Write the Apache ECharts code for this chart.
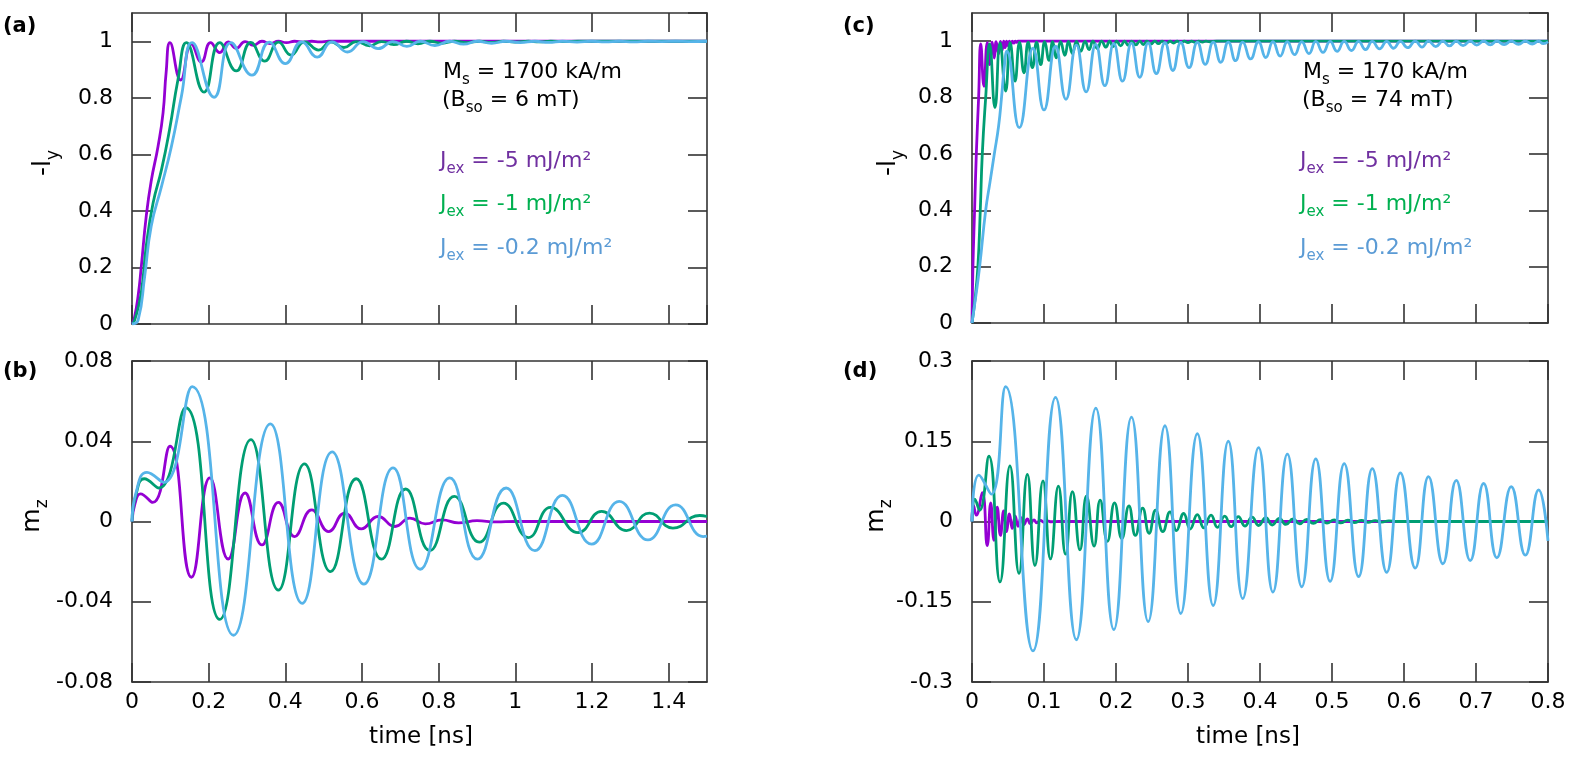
<!DOCTYPE html>
<html>
<head>
<meta charset="utf-8">
<script src="https://cdn.jsdelivr.net/npm/echarts@6/dist/echarts.min.js"></script>
<style>
html,body{margin:0;padding:0;background:#fff;}
#chart{width:1577px;height:759px;}
</style>
</head>
<body>
<div id="chart"></div>
<script>
// ---------- data (time [ns], value) ----------
// (a) -l_y , Ms = 1700 kA/m
const aPurple = [[0,0],[0.006,0.02],[0.016,0.1],[0.024,0.2],[0.037,0.38],[0.05,0.505],[0.068,0.629],[0.081,0.747],[0.089,0.889],[0.099,0.995],[0.127,0.863],[0.155,0.99],[0.181,0.927],[0.205,0.995],[0.229,0.96],[0.251,0.998],[0.272,0.975],[0.295,0.999],[0.317,0.986],[0.339,1],[0.36,0.992],[0.382,1],[0.403,0.995],[0.424,1],[0.447,0.997],[0.469,1],[0.49,0.998],[0.513,1],[1.5,1]];
const aGreen = [[0,0],[0.007,0.014],[0.024,0.109],[0.037,0.274],[0.055,0.428],[0.077,0.546],[0.098,0.688],[0.12,0.865],[0.142,0.995],[0.188,0.82],[0.229,0.995],[0.272,0.895],[0.31,0.996],[0.346,0.93],[0.382,0.997],[0.415,0.951],[0.45,0.998],[0.487,0.969],[0.518,0.998],[0.553,0.978],[0.585,0.999],[0.62,0.984],[0.651,0.999],[0.683,0.988],[0.716,1],[0.746,0.991],[0.777,1],[0.809,0.993],[0.841,1],[0.873,0.995],[0.906,1],[0.937,0.996],[0.969,1],[1.0,0.997],[1.034,1],[1.063,0.998],[1.092,1],[1.128,0.999],[1.164,1],[1.5,1]];
const aBlue = [[0,0],[0.016,0.014],[0.033,0.168],[0.05,0.345],[0.077,0.487],[0.103,0.629],[0.129,0.806],[0.157,0.995],[0.214,0.802],[0.258,0.995],[0.313,0.88],[0.358,0.997],[0.4,0.921],[0.443,0.998],[0.483,0.944],[0.522,0.998],[0.562,0.962],[0.603,0.999],[0.642,0.974],[0.681,0.999],[0.717,0.982],[0.752,1],[0.79,0.985],[0.829,1],[0.865,0.99],[0.901,1],[0.938,0.993],[0.976,1],[1.013,0.995],[1.051,1],[1.087,0.996],[1.123,1],[1.161,0.997],[1.199,1],[1.235,0.998],[1.271,1],[1.308,0.998],[1.346,1],[1.382,0.999],[1.418,1],[1.454,0.999],[1.5,1]];

// (b) m_z , Ms = 1700 kA/m
const bPurple = [[0,0],[0.008,0.009],[0.022,0.0138],[0.054,0.0095],[0.099,0.0375],[0.155,-0.0278],[0.203,0.0217],[0.251,-0.0187],[0.295,0.0142],[0.339,-0.0117],[0.382,0.0095],[0.424,-0.0075],[0.469,0.0058],[0.513,-0.005],[0.555,0.0042],[0.598,-0.0037],[0.642,0.0025],[0.686,-0.0025],[0.725,0.0017],[0.765,-0.0012],[0.809,0.0008],[0.852,-0.0007],[0.9,0.0004],[0.95,-0.0002],[1.0,0],[1.5,0]];
const bGreen = [[0,0],[0.01,0.013],[0.032,0.0213],[0.07,0.0167],[0.14,0.0567],[0.229,-0.0488],[0.31,0.0408],[0.382,-0.0342],[0.45,0.0287],[0.518,-0.025],[0.585,0.0213],[0.651,-0.0188],[0.714,0.0162],[0.777,-0.0145],[0.841,0.0125],[0.906,-0.0103],[0.969,0.0092],[1.034,-0.008],[1.092,0.007],[1.164,-0.0055],[1.225,0.005],[1.29,-0.0045],[1.35,0.0042],[1.411,-0.0033],[1.481,0.003],[1.5,0.0025]];
const bBlue = [[0,0],[0.01,0.014],[0.039,0.0245],[0.083,0.0195],[0.157,0.0672],[0.265,-0.0567],[0.361,0.0487],[0.444,-0.0408],[0.522,0.0347],[0.605,-0.0312],[0.681,0.0267],[0.752,-0.0238],[0.829,0.0217],[0.901,-0.0188],[0.976,0.0167],[1.051,-0.0145],[1.123,0.013],[1.199,-0.0113],[1.271,0.01],[1.346,-0.0092],[1.418,0.0083],[1.49,-0.0075],[1.5,-0.0073]];

// (c) -l_y , Ms = 170 kA/m
const cPurple = [[0,0],[0.0013,0.2],[0.0036,0.4],[0.006,0.6],[0.0092,0.8],[0.0122,0.99],[0.0166,0.84],[0.0212,0.995],[0.0245,0.917],[0.028,0.997],[0.031,0.94],[0.0335,0.998],[0.037,0.955],[0.0395,0.999],[0.042,0.968],[0.044,1],[0.046,0.977],[0.048,1],[0.05,0.984],[0.052,1],[0.054,0.989],[0.056,1],[0.058,0.993],[0.06,1],[0.062,0.996],[0.064,1],[0.08,1],[0.8,1]];
const cGreen = [[0,0],[0.004,0.08],[0.0082,0.2],[0.0115,0.4],[0.0143,0.6],[0.019,0.8],[0.0245,0.99],[0.0319,0.764],[0.039,0.994],[0.0467,0.823],[0.053,0.995],[0.0597,0.858],[0.066,0.996],[0.0722,0.888],[0.078,0.997],[0.0839,0.906],[0.0897,0.997],[0.0954,0.917],[0.101,0.998],[0.107,0.932],[0.112,0.998],[0.117,0.941],[0.123,0.998],[0.129,0.95],[0.134,0.999],[0.1395,0.956],[0.145,0.999],[0.151,0.964],[0.157,0.999],[0.1626,0.97],[0.168,1],[0.174,0.974],[0.18,1],[0.186,0.979],[0.191,1],[0.196,0.981],[0.201,1],[0.2065,0.983],[0.212,1],[0.217,0.985],[0.222,1],[0.2275,0.987],[0.233,1],[0.238,0.988],[0.243,1],[0.2485,0.99],[0.254,1],[0.259,0.991],[0.264,1],[0.27,0.992],[0.275,1],[0.28,0.993],[0.285,1],[0.29,0.994],[0.295,1],[0.3,0.995],[0.305,1],[0.31,0.996],[0.315,1],[0.32,0.997],[0.325,1],[0.33,0.998],[0.34,1],[0.8,1]];
const cBlue = [[0,0],[0.005,0.09],[0.0106,0.2],[0.019,0.4],[0.025,0.5],[0.031,0.6],[0.037,0.7],[0.041,0.8],[0.0445,0.9],[0.0485,0.965],[0.0657,0.693],[0.0847,0.975],[0.1,0.756],[0.116,0.982],[0.1305,0.794],[0.145,0.986],[0.1585,0.82],[0.172,0.989],[0.1845,0.842],[0.197,0.991],[0.209,0.858],[0.2215,0.993],[0.233,0.872],[0.2447,0.994],[0.256,0.885],[0.268,0.995],[0.279,0.896],[0.29,0.996],[0.3015,0.906],[0.313,0.996],[0.324,0.918],[0.335,0.997],[0.3455,0.925],[0.356,0.997],[0.366,0.931],[0.376,0.997],[0.387,0.937],[0.398,0.998],[0.408,0.942],[0.418,0.998],[0.428,0.947],[0.438,0.998],[0.448,0.952],[0.458,0.998],[0.468,0.956],[0.4775,0.999],[0.4875,0.96],[0.4974,0.999],[0.507,0.964],[0.517,0.999],[0.527,0.967],[0.537,0.999],[0.5465,0.97],[0.556,0.999],[0.566,0.973],[0.576,0.999],[0.5855,0.975],[0.595,0.999],[0.605,0.977],[0.6156,1],[0.625,0.979],[0.634,1],[0.644,0.981],[0.654,1],[0.663,0.983],[0.6726,1],[0.682,0.984],[0.692,1],[0.701,0.986],[0.7106,1],[0.7198,0.987],[0.729,1],[0.739,0.988],[0.749,1],[0.759,0.989],[0.7686,1],[0.778,0.99],[0.787,1],[0.7935,0.991],[0.8,0.998]];

// (d) m_z , Ms = 170 kA/m
const dPurple = [[0,0],[0.002,0.03],[0.006,0.012],[0.0143,0.054],[0.0212,-0.045],[0.026,0.035],[0.0305,-0.035],[0.035,0.027],[0.0395,-0.026],[0.044,0.02],[0.048,-0.019],[0.052,0.014],[0.056,-0.013],[0.06,0.01],[0.064,-0.009],[0.068,0.007],[0.072,-0.006],[0.077,0.005],[0.081,-0.004],[0.086,0.003],[0.09,-0.0025],[0.095,0.002],[0.1,-0.0015],[0.105,0.001],[0.11,-0.0005],[0.12,0],[0.8,0]];
const dGreen = [[0,0],[0.004,0.042],[0.0106,0.021],[0.0235,0.122],[0.0389,-0.113],[0.0527,0.104],[0.0653,-0.097],[0.0769,0.088],[0.0875,-0.082],[0.0986,0.076],[0.109,-0.07],[0.12,0.066],[0.13,-0.061],[0.1395,0.056],[0.15,-0.053],[0.159,0.048],[0.1696,-0.046],[0.178,0.04],[0.188,-0.037],[0.198,0.035],[0.208,-0.032],[0.218,0.029],[0.227,-0.026],[0.237,0.025],[0.246,-0.022],[0.255,0.021],[0.265,-0.019],[0.275,0.018],[0.284,-0.017],[0.294,0.015],[0.303,-0.014],[0.313,0.013],[0.322,-0.012],[0.332,0.012],[0.341,-0.011],[0.351,0.01],[0.36,-0.0095],[0.37,0.009],[0.379,-0.0085],[0.389,0.008],[0.398,-0.0075],[0.408,0.007],[0.417,-0.0065],[0.427,0.006],[0.436,-0.0055],[0.446,0.005],[0.455,-0.0045],[0.465,0.004],[0.474,-0.0035],[0.484,0.0035],[0.493,-0.003],[0.503,0.003],[0.512,-0.0025],[0.522,0.0025],[0.531,-0.002],[0.541,0.002],[0.55,-0.0015],[0.56,0.0015],[0.569,-0.001],[0.579,0.001],[0.59,0],[0.8,0]];
const dBlue = [[0,0],[0.0096,0.0868],[0.0268,0.051],[0.0467,0.252],[0.0847,-0.242],[0.116,0.232],[0.145,-0.221],[0.172,0.212],[0.197,-0.202],[0.2215,0.195],[0.2447,-0.187],[0.268,0.179],[0.29,-0.172],[0.313,0.164],[0.335,-0.157],[0.356,0.15],[0.376,-0.144],[0.398,0.138],[0.418,-0.132],[0.438,0.126],[0.458,-0.122],[0.4775,0.117],[0.4974,-0.112],[0.517,0.108],[0.537,-0.103],[0.556,0.099],[0.576,-0.095],[0.595,0.091],[0.6156,-0.087],[0.634,0.084],[0.654,-0.079],[0.6726,0.077],[0.692,-0.073],[0.7106,0.071],[0.729,-0.068],[0.749,0.065],[0.7686,-0.063],[0.787,0.059],[0.8,-0.036]];

// axis ranges
const leftX = {min:0, max:1.5, interval:0.2};
const rightX = {min:0, max:0.8, interval:0.1};
const lyY = {min:0, max:1.1, interval:0.2};
const bY = {min:-0.08, max:0.08, interval:0.04};
const dY = {min:-0.3, max:0.3, interval:0.15};

// texts
const seriesNames = ['J_ex = -5 mJ/m²','J_ex = -1 mJ/m²','J_ex = -0.2 mJ/m²'];
const lineColors = ['#9400D3','#009E73','#56B4E9'];
const textColors = ['#7030A0','#00B050','#5B9BD5'];
const F = 'DejaVu Sans';

// ---------- chart ----------
const chart = echarts.init(document.getElementById('chart'), null, {renderer:'canvas'});

const grids = [
  {left:132, top:13, width:575, height:311},
  {left:132, top:361, width:575, height:321},
  {left:972, top:13, width:576, height:310},
  {left:972, top:361, width:576, height:321}
];
const frame = {color:'#333', width:1.6};

function axisCommon(showLabel, margin){
  return {
    axisLine:{show:true, onZero:false, lineStyle:frame},
    axisTick:{show:true, inside:true, length:19, lineStyle:frame},
    splitLine:{show:false},
    axisLabel:{show:showLabel, color:'#000', fontFamily:F, fontSize:22, margin:margin, showMaxLabel:false}
  };
}
const xAxes = [], yAxes = [];
const gx = [leftX, leftX, rightX, rightX];
const gy = [lyY, bY, lyY, dY];
const gxLabels = [false, true, false, true];
for (let g=0; g<4; g++){
  xAxes.push(Object.assign({type:'value', gridIndex:g, position:'bottom'}, gx[g], axisCommon(gxLabels[g], 9)));
  xAxes.push(Object.assign({type:'value', gridIndex:g, position:'top'}, gx[g], axisCommon(false, 8)));
  yAxes.push(Object.assign({type:'value', gridIndex:g, position:'left'}, gy[g], axisCommon(true, 19)));
  yAxes.push(Object.assign({type:'value', gridIndex:g, position:'right'}, gy[g], axisCommon(false, 8)));
}
xAxes[6].axisLabel.showMaxLabel = true;
yAxes[2].axisLabel.showMaxLabel = true;
yAxes[6].axisLabel.showMaxLabel = true;

const panelData = [[aPurple,aGreen,aBlue],[bPurple,bGreen,bBlue],[cPurple,cGreen,cBlue],[dPurple,dGreen,dBlue]];
const series = [];
for (let g=0; g<4; g++){
  for (let k=0; k<3; k++){
    series.push({
      type:'line', name:seriesNames[k] + ' ' + g, xAxisIndex:2*g, yAxisIndex:2*g,
      data:panelData[g][k], showSymbol:false, smooth:0.5, clip:true,
      lineStyle:{color:lineColors[k], width:2.8}, itemStyle:{color:lineColors[k]},
      silent:true, z:2+k
    });
  }
}

const rich = {
  n:{fontFamily:F, fontSize:22, lineHeight:23, verticalAlign:'top'},
  s:{fontFamily:F, fontSize:15, lineHeight:15, padding:[12,0,0,0], verticalAlign:'top'}
};
const richT = {
  n:{fontFamily:F, fontSize:25, lineHeight:26, verticalAlign:'top'},
  s:{fontFamily:F, fontSize:17, lineHeight:17, padding:[14,0,0,0], verticalAlign:'top'}
};
function rt(x, y, text, color){
  return {type:'text', x:x, y:y, silent:true,
    style:{text:text, rich:rich, fill:color, align:'left', verticalAlign:'top'}};
}
function annot(x0, ms, bso){
  return [
    rt(x0+3, 61, '{n|M}{s|s}{n| = ' + ms + ' kA/m}', '#000'),
    rt(x0+2, 89, '{n|(B}{s|so}{n| = ' + bso + ' mT)}', '#000'),
    rt(x0, 150, '{n|J}{s|ex}{n| = -5 mJ/m²}', textColors[0]),
    rt(x0, 193, '{n|J}{s|ex}{n| = -1 mJ/m²}', textColors[1]),
    rt(x0, 237, '{n|J}{s|ex}{n| = -0.2 mJ/m²}', textColors[2])
  ];
}
function ytitle(x, y, main, sub){
  return {type:'text', x:x, y:y, rotation:Math.PI/2, silent:true,
    style:{text:'{n|' + main + '}{s|' + sub + '}', rich:richT, fill:'#000', align:'center', verticalAlign:'middle'}};
}
function plabel(x, y, t){
  return {type:'text', x:x, y:y, silent:true,
    style:{text:t, fill:'#000', fontFamily:F, fontSize:21, fontWeight:'bold', align:'left', verticalAlign:'middle'}};
}
function xtitle(x, y){
  return {type:'text', x:x, y:y, silent:true,
    style:{text:'time [ns]', fill:'#000', fontFamily:F, fontSize:23, align:'center', verticalAlign:'middle'}};
}

const graphics = [].concat(
  annot(440, '1700', '6'),
  annot(1300, '170', '74'),
  [
    ytitle(44, 163, '-l', 'y'),
    ytitle(33, 516, 'm', 'z'),
    ytitle(889, 163, '-l', 'y'),
    ytitle(877, 516, 'm', 'z'),
    plabel(3, 27, '(a)'),
    plabel(3, 372, '(b)'),
    plabel(843, 27, '(c)'),
    plabel(843, 372, '(d)'),
    xtitle(421, 737),
    xtitle(1248, 737)
  ]
);

chart.setOption({
  animation:false,
  backgroundColor:'#fff',
  grid:grids,
  xAxis:xAxes,
  yAxis:yAxes,
  series:series,
  graphic:{elements:graphics}
});
</script>
</body>
</html>
